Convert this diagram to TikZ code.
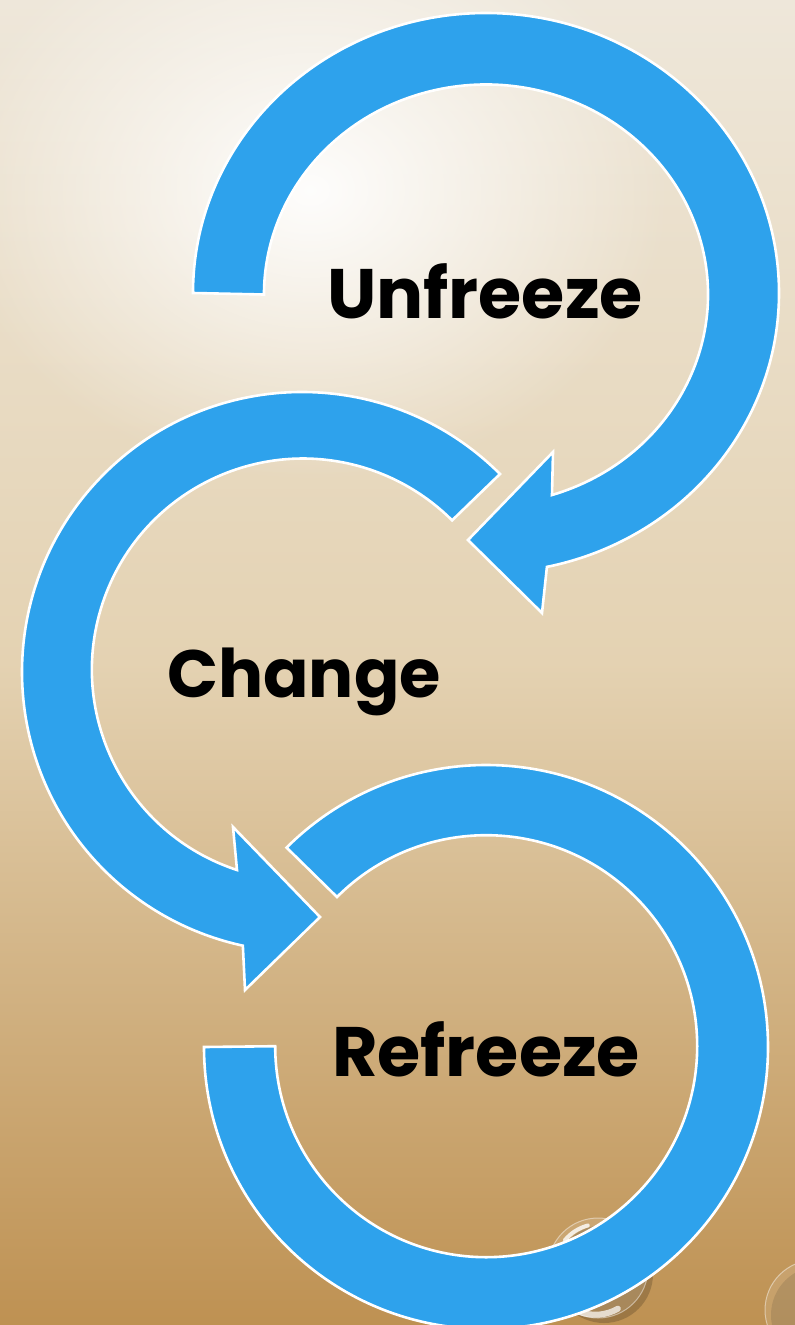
\documentclass[tikz,border=0pt]{standalone}
\usepackage{fontspec}
\newfontfamily\labelfont{Poppins}
\usetikzlibrary{fadings}
\definecolor{arrowblue}{RGB}{46,162,236}
\definecolor{bgtop}{RGB}{238,231,218}
\definecolor{bgmid}{RGB}{228,210,178}
\definecolor{bgbot}{RGB}{190,145,82}
\tikzfading[name=softglow, inner color=transparent!0, outer color=transparent!100]
\tikzset{
  bandarrow/.style={fill=arrowblue, draw=white, line width=2.6pt, line join=miter},
  stagelabel/.style={font=\labelfont\bfseries\fontsize{70}{70}\selectfont, text=black, inner sep=0pt, anchor=base},
  drop/.style={fill=white, fill opacity=0.12, draw=white, draw opacity=0.45, line width=1pt}
}
\begin{document}
\begin{tikzpicture}[x=1pt,y=1pt]
\useasboundingbox (0,0) rectangle (795,-1325);
% background
\shade[top color=bgtop, bottom color=bgbot, middle color=bgmid] (0,0) rectangle (795,-1325);
\fill[white, path fading=softglow, opacity=0.95] (310,-190) ellipse (360 and 290);
% water drops
\fill[black, opacity=0.18] (604,-1274) circle (49);
\fill[drop] (598,-1268) circle (50);
\draw[white, opacity=0.8, line width=4pt, line cap=round] (565,-1240) arc[start angle=140, end angle=105, radius=45];
\draw[white, opacity=0.7, line width=6pt, line cap=round] (580,-1312) arc[start angle=250, end angle=300, radius=45];
\fill[black, opacity=0.12] (820,-1315) circle (49);
\fill[drop] (815,-1310) circle (50);
% arrow 1 (Unfreeze)
\draw[bandarrow] (193,-293)
  arc[start angle=180, end angle=-78, x radius=293, y radius=280]
  -- (542,-613) -- (468,-540) -- (553,-452) -- (552,-495)
  arc[start angle=-72.7, end angle=180, x radius=222, y radius=210] -- cycle;
% arrow 2 (Change)
\draw[bandarrow] (500,-474)
  arc[start angle=45, end angle=257.8, radius=280]
  -- (245,-990) -- (320,-917) -- (233,-827) -- (237,-870)
  arc[start angle=251.8, end angle=45, radius=211] -- cycle;
% arrow 3 (Refreeze)
\draw[bandarrow] (204,-1047)
  arc[start angle=180, end angle=495, radius=282]
  -- (337,-897)
  arc[start angle=495, end angle=180, radius=211] -- cycle;
% labels
\node[stagelabel] (unfreeze) at (485,-318) {Unfreeze};
\node[stagelabel, font=\labelfont\bfseries\fontsize{67}{67}\selectfont] (change) at (304,-697) {Change};
\node[stagelabel] (refreeze) at (486,-1076) {Refreeze};
\end{tikzpicture}
\end{document}
